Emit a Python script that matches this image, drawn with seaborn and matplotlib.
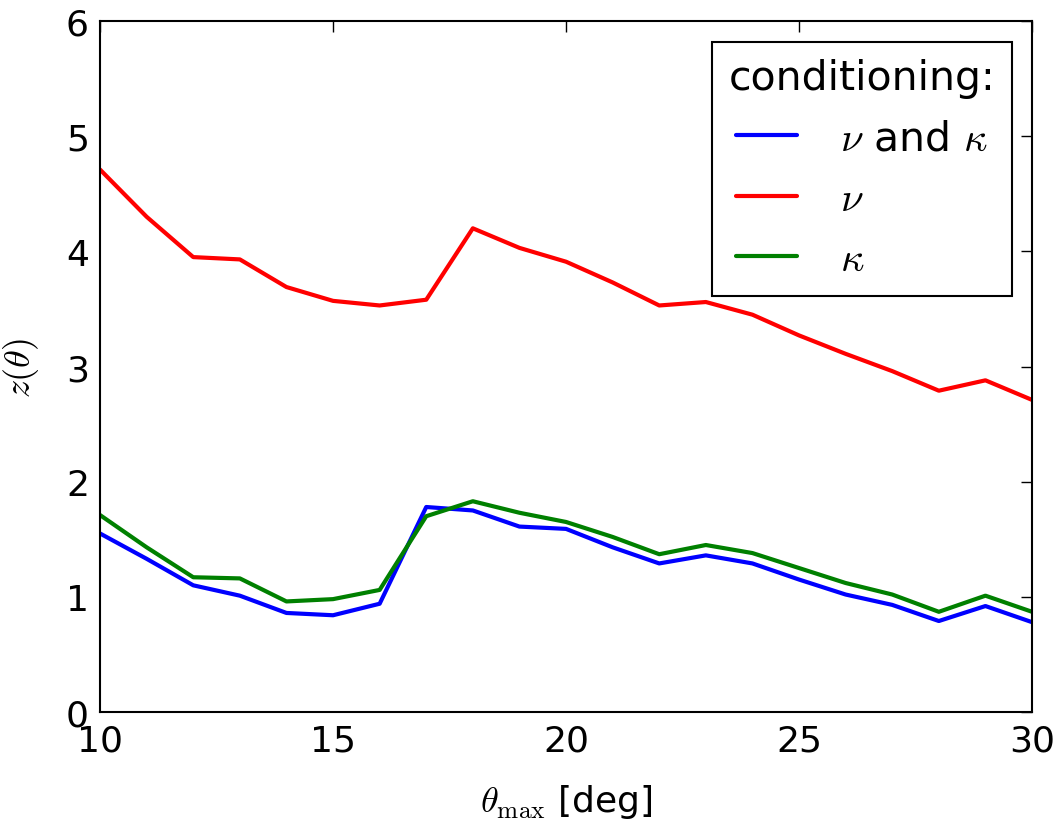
import numpy as np
import pandas as pd
import matplotlib
matplotlib.use("Agg")
import matplotlib.pyplot as plt
import seaborn as sns

theta_max = list(range(10, 31))
z_nu_kappa = [1.55, 1.33, 1.10, 1.01, 0.86, 0.84, 0.94, 1.78, 1.75, 1.61, 1.59,
              1.43, 1.29, 1.36, 1.29, 1.15, 1.02, 0.93, 0.79, 0.92, 0.78]
z_nu = [4.71, 4.30, 3.95, 3.93, 3.69, 3.57, 3.53, 3.58, 4.20, 4.03, 3.91,
        3.73, 3.53, 3.56, 3.45, 3.27, 3.11, 2.96, 2.79, 2.88, 2.71]
z_kappa = [1.71, 1.43, 1.17, 1.16, 0.96, 0.98, 1.06, 1.70, 1.83, 1.73, 1.65,
           1.52, 1.37, 1.45, 1.38, 1.25, 1.12, 1.02, 0.87, 1.01, 0.87]
labels = [r"$\nu$ and $\kappa$", r"$\nu$", r"$\kappa$"]
colors = ["blue", "red", "green"]

df = pd.DataFrame({
    "theta": theta_max * 3,
    "z": z_nu_kappa + z_nu + z_kappa,
    "cond": [labels[0]] * 21 + [labels[1]] * 21 + [labels[2]] * 21,
})

sns.set_style("white", {"text.color": "black", "axes.labelcolor": "black",
                        "xtick.color": "black", "ytick.color": "black",
                        "axes.edgecolor": "black"})
plt.rcParams["font.family"] = ["DejaVu Sans"]
plt.rcParams["mathtext.fontset"] = "cm"

fig = plt.figure(figsize=(10.61, 8.28), dpi=100)
ax = fig.add_axes([0.0943, 0.1389, 0.8784, 0.8345])

sns.lineplot(data=df, x="theta", y="z", hue="cond", hue_order=labels,
             palette=colors, linewidth=3, ax=ax)

ax.set_xlim(10, 30)
ax.set_ylim(0, 6)
ax.set_xticks([10, 15, 20, 25, 30])
ax.set_yticks(range(7))
ax.tick_params(direction="in", top=True, right=True, length=8, width=1,
               labelsize=26, pad=8)
for s in ax.spines.values():
    s.set_linewidth(1.5)

ax.set_xlabel(r"$\theta_{\rm max}$ [deg]", fontsize=26, labelpad=18)
ax.set_ylabel(r"$z(\theta)$", fontsize=26, labelpad=18)

leg = ax.legend(title="conditioning:", loc="upper right", fontsize=29.5,
                title_fontsize=29.5, fancybox=False, edgecolor="black",
                framealpha=1, handlelength=1.5, handletextpad=1.05,
                labelspacing=0.5, borderaxespad=0.5, borderpad=0.4)
leg.get_frame().set_linewidth(1.5)
for line in leg.get_lines():
    line.set_linewidth(3)

fig.savefig("out.png", dpi=100)
